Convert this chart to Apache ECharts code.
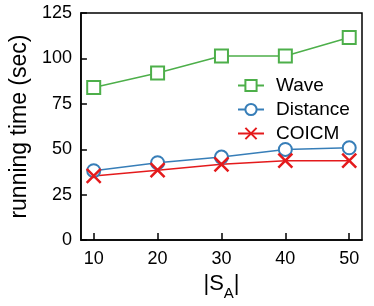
<!DOCTYPE html>
<html><head><meta charset="utf-8">
<script src="https://cdn.jsdelivr.net/npm/echarts@6/dist/echarts.min.js"></script>
<style>html,body{margin:0;padding:0;background:#fff}#c{width:374px;height:306px}</style>
</head><body><div id="c"></div>
<script>
const xValues = [10, 20, 30, 40, 50];
const waveValues = [84, 92, 101.3, 101.3, 111.5];
const distanceValues = [38.2, 42.6, 45.7, 49.9, 50.8];
const coicmValues = [35.3, 38.5, 41.7, 43.7, 43.7];
const yTicks = [0, 25, 50, 75, 100, 125];
const seriesNames = ['Wave', 'Distance', 'COICM'];

const FONT = 'Liberation Sans';
const pair = v => xValues.map((x, i) => [x, v[i]]);
const crossPath = 'path://M0,0L10,10M10,0L0,10';

const chart = echarts.init(document.getElementById('c'), null, {renderer: 'canvas'});
chart.setOption({
  animation: false,
  textStyle: {fontFamily: FONT},
  grid: {left: 70, right: 12, top: 13, bottom: 65, show: true, borderColor: '#000', borderWidth: 1.5, containLabel: false},
  legend: {
    orient: 'vertical', left: 232, top: 71, itemWidth: 26, itemHeight: 14, itemGap: 5,
    data: seriesNames,
    textStyle: {fontFamily: FONT, fontSize: 19, color: '#000', padding: [0, 0, 0, 7]}
  },
  xAxis: {
    type: 'value', min: 8, max: 52,
    name: '{m||S}{s|A}{m||}', nameLocation: 'middle', nameGap: 22,
    nameTextStyle: {verticalAlign: 'top', rich: {
      m: {fontFamily: FONT, fontSize: 22, color: '#000'},
      s: {fontFamily: FONT, fontSize: 15, color: '#000', verticalAlign: 'bottom', padding: [0, 0, -6, 0]}
    }},
    axisLine: {lineStyle: {color: '#000', width: 1.5}},
    axisTick: {inside: true, length: 7, lineStyle: {color: '#000', width: 1.5}, customValues: xValues},
    axisLabel: {fontFamily: FONT, fontSize: 18, color: '#000', margin: 10, customValues: xValues},
    splitLine: {show: false}
  },
  yAxis: {
    type: 'value', min: 0, max: 125, interval: 25,
    name: 'running time (sec)', nameLocation: 'middle', nameGap: 41,
    nameTextStyle: {fontFamily: FONT, fontSize: 23, color: '#000'},
    axisLine: {show: true, lineStyle: {color: '#000', width: 1.5}},
    axisTick: {inside: true, length: 6, lineStyle: {color: '#000', width: 1.5}},
    axisLabel: {fontFamily: FONT, fontSize: 18, color: '#000', margin: 9, formatter: v => yTicks.includes(v) ? String(v) : ''},
    splitLine: {show: false}
  },
  series: [
    {name: 'Wave', type: 'line', data: pair(waveValues), symbol: 'emptyRect', symbolSize: 13,
     color: '#4daf4a', lineStyle: {width: 1.5}, itemStyle: {borderWidth: 2.5, color: '#4daf4a', borderColor: '#4daf4a'}},
    {name: 'Distance', type: 'line', data: pair(distanceValues), symbol: 'emptyCircle', symbolSize: 13,
     color: '#377eb8', lineStyle: {width: 1.5}, itemStyle: {borderWidth: 2.5, color: '#377eb8', borderColor: '#377eb8'}},
    {name: 'COICM', type: 'line', data: pair(coicmValues), symbol: crossPath, symbolSize: 14,
     color: '#e41a1c', lineStyle: {width: 1.5}, itemStyle: {borderWidth: 2.5, color: '#e41a1c', borderColor: '#e41a1c'}}
  ]
});
</script></body></html>
